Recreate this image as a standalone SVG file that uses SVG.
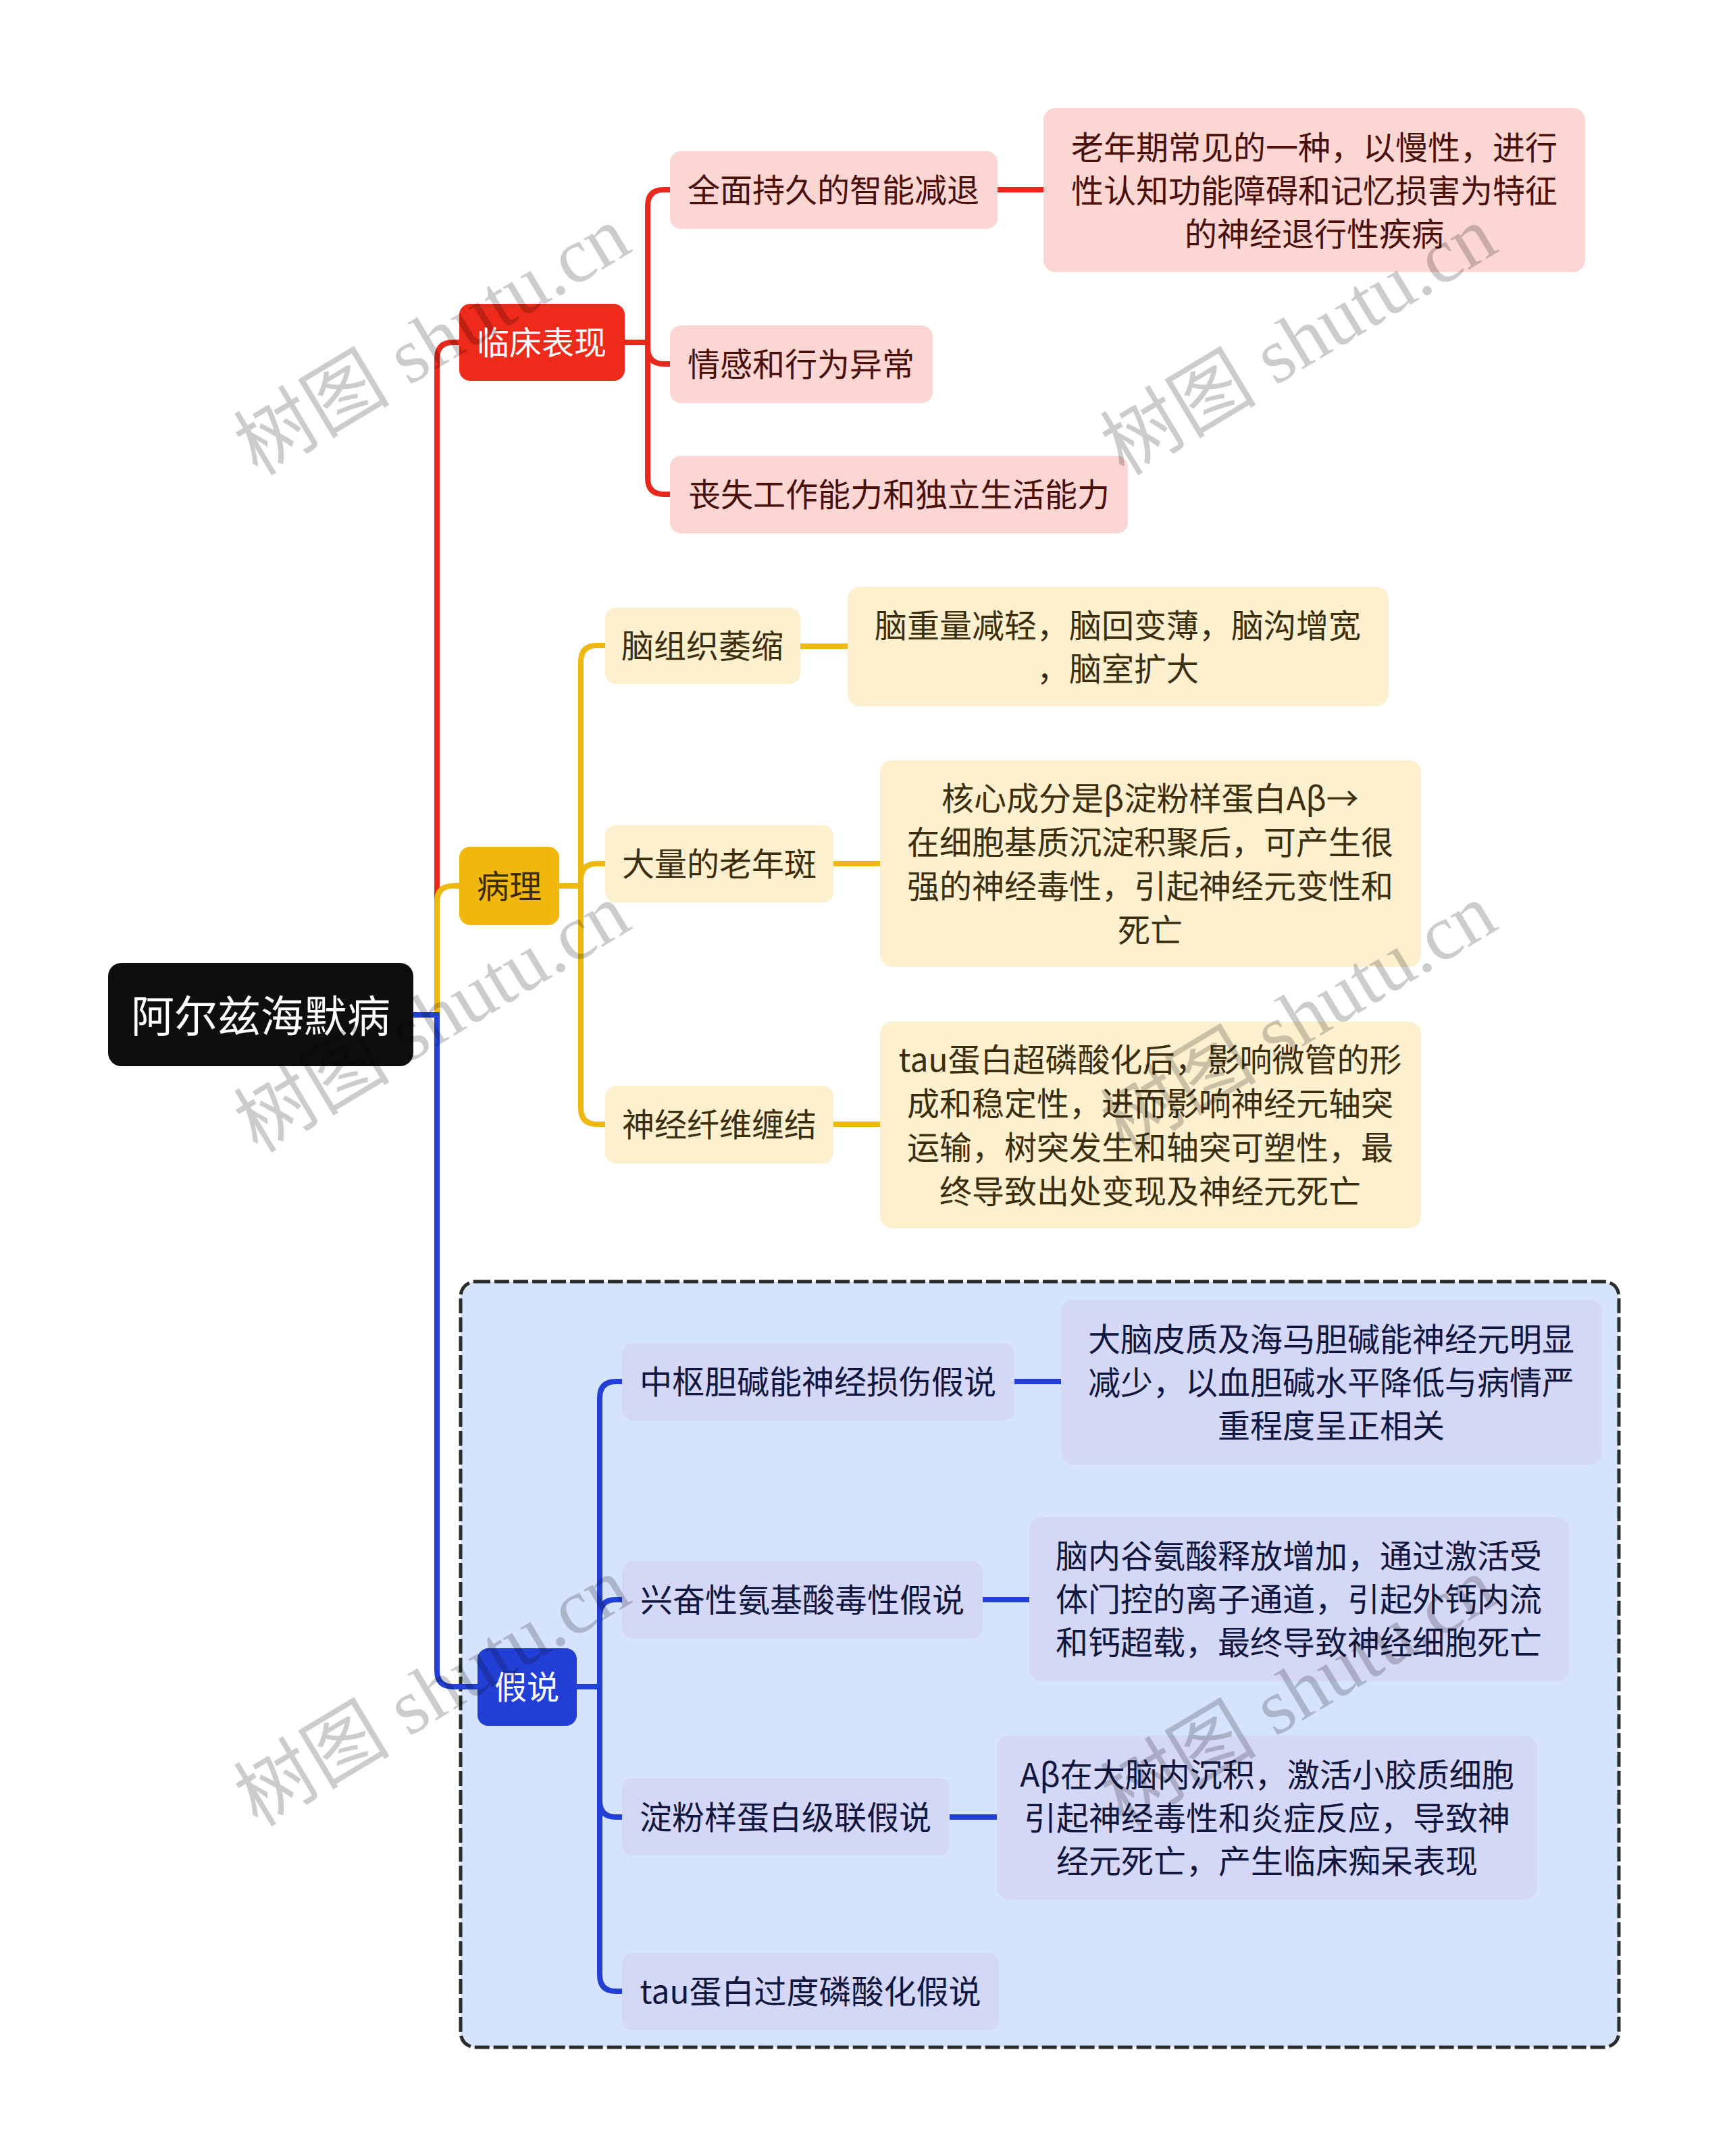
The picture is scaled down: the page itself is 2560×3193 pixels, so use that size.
<svg xmlns="http://www.w3.org/2000/svg" width="2560" height="3193" viewBox="0 0 2560 3193">
<style>
text{font-family:"Noto Sans CJK SC","Noto Sans",sans-serif;text-anchor:middle;dominant-baseline:central;}
.t48{font-size:48px;transform:translateY(-3px);}
.root{fill:#0e0e0e;}
.rootT{fill:#ffffff;font-size:64px;transform:translateY(-3px);}
.redB{fill:#ee2a1a;}
.yelB{fill:#f0b80c;}
.bluB{fill:#2340d6;}
.pink{fill:#fbd6d3;}
.cream{fill:#fdf0cf;}
.lav{fill:#d4d7f6;}
.tW{fill:#ffffff;}
.tR{fill:#4a0f0a;}
.tY{fill:#3c2e0c;}
.tYB{fill:#3a2a00;}
.tB{fill:#11163f;}
.cR{stroke:#e8281b;}
.cY{stroke:#efb80e;}
.cB{stroke:#2340d6;}
#connectors path{fill:none;stroke-width:8;}
.wm{font-family:"Liberation Serif","Noto Sans CJK SC",serif;font-size:116px;fill:#000;fill-opacity:0.2;}
</style>
<rect width="2560" height="3193" fill="#ffffff"/>

<g id="hypothesis-frame">
<rect x="682" y="1898" width="1715" height="1134" rx="22" fill="#d5e3fd" stroke="#2b2b2b" stroke-width="5" stroke-dasharray="22 6"/>
</g>

<g id="connectors">
<path class="cR" d="M612,1503 H647 V531 Q647,507 671,507 H680"/>
<path class="cY" d="M612,1503 H647 V1336 Q647,1312 671,1312 H680"/>
<path class="cB" d="M612,1503 H647 V2474 Q647,2498 671,2498 H707"/>
<path class="cR" d="M925,507 H959 V305 Q959,281 983,281 H992"/>
<path class="cR" d="M925,507 H959 V515 Q959,539 983,539 H992"/>
<path class="cR" d="M925,507 H959 V708 Q959,732 983,732 H992"/>
<path class="cR" d="M1477,281 H1545"/>
<path class="cY" d="M828,1312 H860 V980 Q860,956 884,956 H896"/>
<path class="cY" d="M828,1312 H860 V1303 Q860,1279 884,1279 H896"/>
<path class="cY" d="M828,1312 H860 V1641 Q860,1665 884,1665 H896"/>
<path class="cY" d="M1185,957 H1255"/>
<path class="cY" d="M1234,1279 H1303"/>
<path class="cY" d="M1234,1665 H1303"/>
<path class="cB" d="M854,2498 H888 V2070 Q888,2046 912,2046 H921"/>
<path class="cB" d="M854,2498 H888 V2393 Q888,2369 912,2369 H921"/>
<path class="cB" d="M854,2498 H888 V2667 Q888,2691 912,2691 H921"/>
<path class="cB" d="M854,2498 H888 V2925 Q888,2949 912,2949 H921"/>
<path class="cB" d="M1502,2046 H1571"/>
<path class="cB" d="M1455,2369 H1524"/>
<path class="cB" d="M1406,2691 H1476"/>
</g>

<g id="root">
<rect class="root" x="160" y="1426" width="452" height="153" rx="20"/>
<text class="rootT" x="386" y="1503">阿尔兹海默病</text>
</g>

<g id="clinical">
<rect class="redB" x="680" y="450" width="245" height="114" rx="16"/>
<text class="t48 tW" x="802" y="507">临床表现</text>
</g>
<g id="clinical-1">
<rect class="pink" x="992" y="224" width="485" height="115" rx="16"/>
<text class="t48 tR" x="1234" y="281">全面持久的智能减退</text>
</g>
<g id="clinical-1-desc">
<rect class="pink" x="1545" y="160" width="802" height="243" rx="18"/>
<text class="t48 tR" x="1946" y="218">老年期常见的一种，以慢性，进行</text>
<text class="t48 tR" x="1946" y="282">性认知功能障碍和记忆损害为特征</text>
<text class="t48 tR" x="1946" y="346">的神经退行性疾病</text>
</g>
<g id="clinical-2">
<rect class="pink" x="992" y="482" width="389" height="115" rx="16"/>
<text class="t48 tR" x="1186" y="539">情感和行为异常</text>
</g>
<g id="clinical-3">
<rect class="pink" x="992" y="675" width="678" height="115" rx="16"/>
<text class="t48 tR" x="1331" y="732">丧失工作能力和独立生活能力</text>
</g>

<g id="pathology">
<rect class="yelB" x="680" y="1254" width="148" height="116" rx="16"/>
<text class="t48 tYB" x="754" y="1312">病理</text>
</g>
<g id="pathology-1">
<rect class="cream" x="896" y="900" width="289" height="113" rx="16"/>
<text class="t48 tY" x="1040" y="956">脑组织萎缩</text>
</g>
<g id="pathology-1-desc">
<rect class="cream" x="1255" y="869" width="801" height="177" rx="18"/>
<text class="t48 tY" x="1655" y="926">脑重量减轻，脑回变薄，脑沟增宽</text>
<text class="t48 tY" x="1655" y="990">，脑室扩大</text>
</g>
<g id="pathology-2">
<rect class="cream" x="896" y="1222" width="338" height="115" rx="16"/>
<text class="t48 tY" x="1065" y="1279">大量的老年斑</text>
</g>
<g id="pathology-2-desc">
<rect class="cream" x="1303" y="1126" width="801" height="306" rx="18"/>
<text class="t48 tY" x="1703" y="1182">核心成分是β淀粉样蛋白Aβ→</text>
<text class="t48 tY" x="1703" y="1247">在细胞基质沉淀积聚后，可产生很</text>
<text class="t48 tY" x="1703" y="1312">强的神经毒性，引起神经元变性和</text>
<text class="t48 tY" x="1703" y="1377">死亡</text>
</g>
<g id="pathology-3">
<rect class="cream" x="896" y="1608" width="338" height="115" rx="16"/>
<text class="t48 tY" x="1065" y="1665">神经纤维缠结</text>
</g>
<g id="pathology-3-desc">
<rect class="cream" x="1303" y="1513" width="801" height="306" rx="18"/>
<text class="t48 tY" x="1703" y="1569">tau蛋白超磷酸化后，影响微管的形</text>
<text class="t48 tY" x="1703" y="1634">成和稳定性，进而影响神经元轴突</text>
<text class="t48 tY" x="1703" y="1699">运输，树突发生和轴突可塑性，最</text>
<text class="t48 tY" x="1703" y="1764">终导致出处变现及神经元死亡</text>
</g>

<g id="hypothesis">
<rect class="bluB" x="707" y="2441" width="147" height="115" rx="16"/>
<text class="t48 tW" x="780" y="2498">假说</text>
</g>
<g id="hypothesis-1">
<rect class="lav" x="921" y="1989" width="581" height="115" rx="16"/>
<text class="t48 tB" x="1211" y="2046">中枢胆碱能神经损伤假说</text>
</g>
<g id="hypothesis-1-desc">
<rect class="lav" x="1571" y="1925" width="801" height="244" rx="18"/>
<text class="t48 tB" x="1971" y="1983">大脑皮质及海马胆碱能神经元明显</text>
<text class="t48 tB" x="1971" y="2047">减少，以血胆碱水平降低与病情严</text>
<text class="t48 tB" x="1971" y="2111">重程度呈正相关</text>
</g>
<g id="hypothesis-2">
<rect class="lav" x="921" y="2312" width="534" height="115" rx="16"/>
<text class="t48 tB" x="1188" y="2369">兴奋性氨基酸毒性假说</text>
</g>
<g id="hypothesis-2-desc">
<rect class="lav" x="1524" y="2247" width="799" height="243" rx="18"/>
<text class="t48 tB" x="1923" y="2304">脑内谷氨酸释放增加，通过激活受</text>
<text class="t48 tB" x="1923" y="2368">体门控的离子通道，引起外钙内流</text>
<text class="t48 tB" x="1923" y="2432">和钙超载，最终导致神经细胞死亡</text>
</g>
<g id="hypothesis-3">
<rect class="lav" x="921" y="2633" width="485" height="115" rx="16"/>
<text class="t48 tB" x="1163" y="2691">淀粉样蛋白级联假说</text>
</g>
<g id="hypothesis-3-desc">
<rect class="lav" x="1476" y="2570" width="800" height="243" rx="18"/>
<text class="t48 tB" x="1876" y="2628">Aβ在大脑内沉积，激活小胶质细胞</text>
<text class="t48 tB" x="1876" y="2692">引起神经毒性和炎症反应，导致神</text>
<text class="t48 tB" x="1876" y="2756">经元死亡，产生临床痴呆表现</text>
</g>
<g id="hypothesis-4">
<rect class="lav" x="921" y="2892" width="558" height="115" rx="16"/>
<text class="t48 tB" x="1200" y="2949">tau蛋白过度磷酸化假说</text>
</g>

<g id="watermarks">
<text class="wm" x="640" y="505" transform="rotate(-31 640 505)">树图 shutu.cn</text>
<text class="wm" x="1923" y="505" transform="rotate(-31 1923 505)">树图 shutu.cn</text>
<text class="wm" x="640" y="1508" transform="rotate(-31 640 1508)">树图 shutu.cn</text>
<text class="wm" x="1923" y="1508" transform="rotate(-31 1923 1508)">树图 shutu.cn</text>
<text class="wm" x="640" y="2506" transform="rotate(-31 640 2506)">树图 shutu.cn</text>
<text class="wm" x="1923" y="2506" transform="rotate(-31 1923 2506)">树图 shutu.cn</text>
</g>
</svg>
